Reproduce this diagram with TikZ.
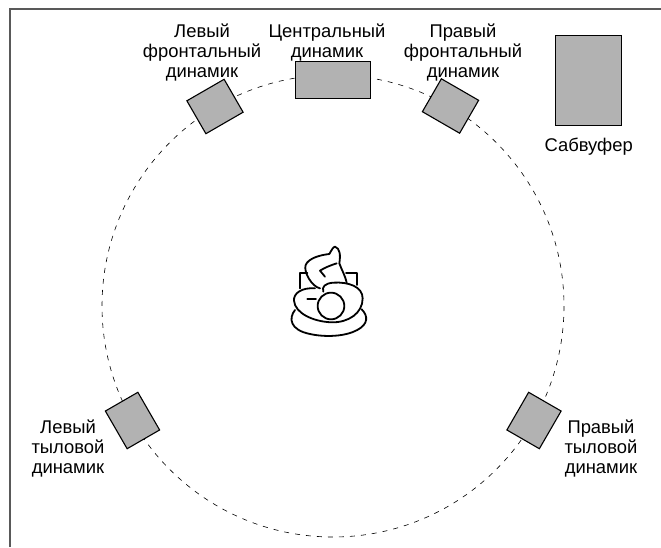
\documentclass[tikz,border=0pt]{standalone}
\usepackage{fontspec}
\setmainfont{Liberation Sans}
\usetikzlibrary{positioning}

\begin{document}
\begin{tikzpicture} [x=1pt,y=-1pt,
		 speaker/.style={rectangle,draw=black,fill=black!30,line width=1.1pt,inner sep=0pt,outer sep=0pt},
		 label/.style={align=center,inner sep=0pt,font=\fontsize{18.4}{20}\selectfont},
		 person/.style={line width=1.8pt,line cap=round,line join=round}]
\useasboundingbox (0,0) rectangle (661,547);
\draw [black!65,line width=1.2pt] (10,547) -- (10,9) -- (661,9);
\draw [line width=.6pt,dash pattern=on 5pt off 6pt] (333,306) circle (231);
% speakers
\node [speaker,minimum width=43pt,minimum height=38pt,rotate=30] (frontleft) at (215,106.5) {};
\node [speaker,minimum width=74.5pt,minimum height=37.4pt] (center) at (333,79.8) {};
\node [speaker,minimum width=43pt,minimum height=38pt,rotate=-30] (frontright) at (450.5,106) {};
\node [speaker,minimum width=66pt,minimum height=89.5pt] (subwoofer) at (588.7,80.5) {};
\node [speaker,minimum width=37.5pt,minimum height=43.5pt,rotate=30] (rearleft) at (132.5,420.5) {};
\node [speaker,minimum width=37.5pt,minimum height=43.5pt,rotate=-30] (rearright) at (534,420.5) {};
% labels
\node [label] (frontleftlabel) at (202,52.5) {Левый\\фронтальный\\динамик};
\node [label] (centerlabel) at (327,42.5) {Центральный\\динамик};
\node [label] (frontrightlabel) at (463,52.5) {Правый\\фронтальный\\динамик};
\node [label,below=13pt of subwoofer] (subwooferlabel) {Сабвуфер};
\node [label] (rearleftlabel) at (68,448) {Левый\\тыловой\\динамик};
\node [label] (rearrightlabel) at (601,448) {Правый\\тыловой\\динамик};
% listener
\begin{scope} [shift={(270,230)},x=.3333pt,y=-.3333pt,person]
\draw (75,240) .. controls (55,265) and (60,300) .. (120,312) .. controls (165,322) and (225,320) .. (262,300) .. controls (295,282) and (295,258) .. (275,238);
\draw (90,175) -- (90,130) -- (112,130);
\draw (228,130) -- (262,130) -- (262,165);
\draw (135,175) .. controls (95,172) and (70,190) .. (72,212) .. controls (75,250) and (130,275) .. (185,277) .. controls (235,278) and (278,250) .. (278,205) .. controls (278,170) and (235,155) .. (190,158) .. controls (165,160) and (155,170) .. (160,185);
\draw (150,175) .. controls (125,170) and (100,125) .. (107,105) .. controls (115,85) and (150,75) .. (178,72) .. controls (185,60) and (190,50) .. (195,50) .. controls (210,55) and (212,75) .. (208,100) .. controls (215,120) and (225,135) .. (230,158);
\draw (165,140) -- (150,122) .. controls (165,112) and (185,105) .. (200,100);
\draw (112,207) -- (138,207);
\draw [fill=white] (183,228) circle (40);
\end{scope}
\end{tikzpicture}
\end{document}
